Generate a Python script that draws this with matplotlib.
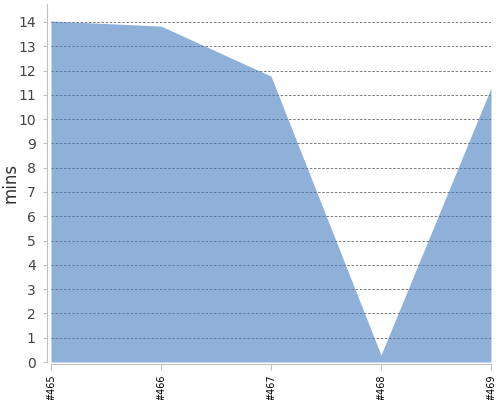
import matplotlib.pyplot as plt
import numpy as np

builds = ["#465", "#466", "#467", "#468", "#469"]
mins = [14.04, 13.83, 11.77, 0.29, 11.28]

fig = plt.figure(figsize=(5, 4), dpi=100)
ax = fig.add_axes([0.102, 0.095, 0.88, 0.895])

x = np.arange(len(builds))
ax.fill_between(x, mins, 0, color="#447DC1", alpha=0.6, linewidth=0, zorder=2)

for s in ["top", "right"]:
    ax.spines[s].set_visible(False)
ax.spines["left"].set_color("#c0c0c0")
ax.spines["bottom"].set_color("#c0c0c0")
ax.spines["left"].set_position(("outward", 3))
ax.spines["bottom"].set_position(("outward", 1.5))

ax.set_xlim(0, len(builds) - 1)
ax.set_ylim(0, 14.74)
ax.set_yticks(range(0, 15))
ax.set_xticks(x)
ax.set_xticklabels(builds, rotation=90, fontsize=7)

# grid sits under the translucent area so it shows faintly through it
ax.yaxis.grid(True, linestyle=(0, (3, 2)), color="#666666", linewidth=0.6)
ax.set_axisbelow(True)

ax.tick_params(axis="y", colors="#c0c0c0", labelcolor="#444444", labelsize=10, length=3, pad=5)
ax.tick_params(axis="x", colors="#c0c0c0", labelcolor="black", length=4)

ax.set_ylabel("mins", fontsize=12, color="#333333")
ax.yaxis.set_label_coords(-0.072, 0.5)

fig.savefig("out.png", dpi=100)
